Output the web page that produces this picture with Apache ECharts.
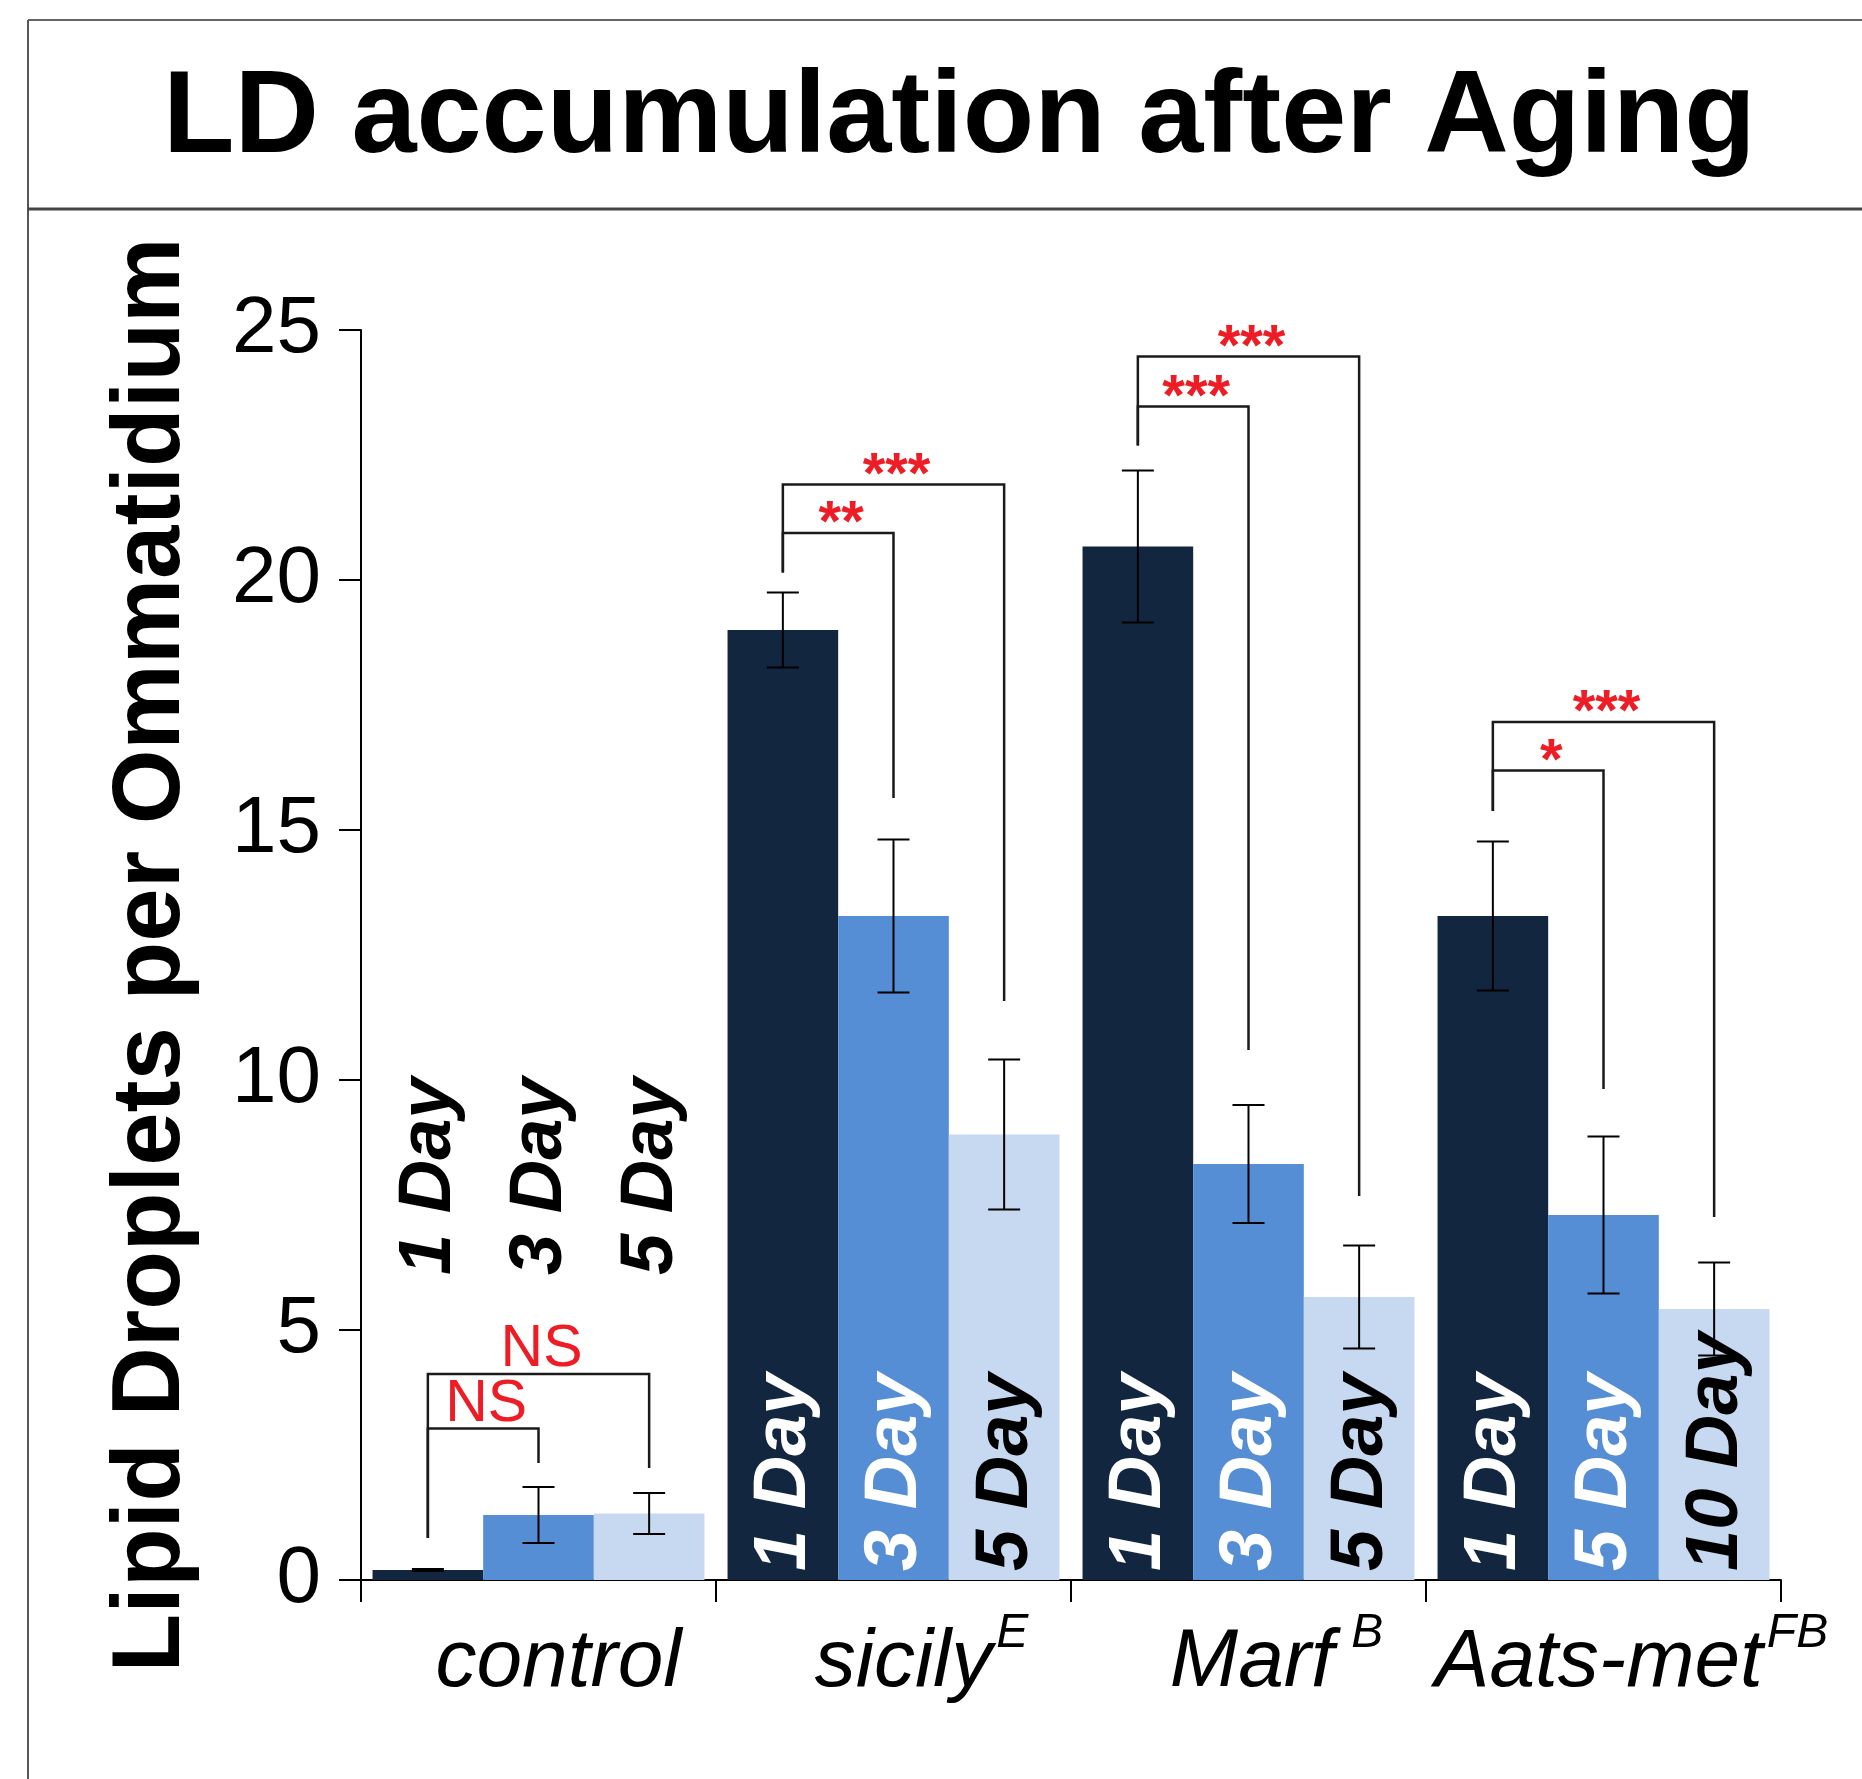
<!DOCTYPE html>
<html><head><meta charset="utf-8">
<script src="https://cdn.jsdelivr.net/npm/echarts@6/dist/echarts.min.js"></script>
<style>html,body{margin:0;padding:0;background:#fff}#c{width:1862px;height:1779px}</style>
</head><body><div id="c"></div>
<script>
// ---------------- data ----------------
const groups = ['control', 'sicily', 'Marf', 'Aats-met'];
const groupSup = ['', 'E', ' B', 'FB'];
const dayLabels = [
  ['1 Day', '3 Day', '5 Day'],
  ['1 Day', '3 Day', '5 Day'],
  ['1 Day', '3 Day', '5 Day'],
  ['1 Day', '5 Day', '10 Day']
];
const firstPoint  = [0.20, 19.00, 20.67, 13.28];
const secondPoint = [1.30, 13.28, 8.32, 7.30];
const thirdPoint  = [1.33, 8.91, 5.66, 5.42];
const firstErr  = [0.02, 0.75, 1.52, 1.49];
const secondErr = [0.56, 1.53, 1.18, 1.57];
const thirdErr  = [0.41, 1.50, 1.03, 0.93];
const yTicks = [0, 5, 10, 15, 20, 25];
// brackets: group, from bar, to bar, bracket level, left-leg bottom, right-leg bottom
const bracketGroup = [0, 0, 1, 1, 2, 2, 3, 3];
const bracketTo    = [1, 2, 1, 2, 1, 2, 1, 2];
const bracketLevel = [3.03, 4.12, 20.94, 21.91, 23.47, 24.47, 16.19, 17.16];
const bracketLeftBottom  = [0.84, 0.84, 20.15, 20.15, 22.69, 22.69, 15.38, 15.38];
const bracketRightBottom = [2.34, 2.24, 15.64, 11.58, 10.60, 7.68, 9.82, 7.26];
const bracketText = ['NS', 'NS', '**', '***', '***', '***', '*', '***'];

// ---------------- style constants ----------------
const FONT = '"Liberation Sans", Arial, Helvetica, sans-serif';
const COLORS = ['#132640', '#558ED5', '#C6D9F1'];
const LABEL_COLORS = ['#ffffff', '#ffffff', '#000000'];
const RED = '#EE1C25';
const CAT_GAP = 0.065;
const CONTROL_LABEL_BASE = 6.1;

const values = [firstPoint, secondPoint, thirdPoint];
const errs = [firstErr, secondErr, thirdErr];

function barCenter(api, g, p) {
  const c = api.coord([g, 0])[0];
  const w = api.size([1, 0])[0];
  const bw = w * (1 - CAT_GAP) / 3;
  return c + (p - 1) * bw;
}

const errData = [];
const labelData = [];
for (let g = 0; g < groups.length; g++) {
  for (let p = 0; p < 3; p++) {
    errData.push([g, p, values[p][g], errs[p][g]]);
    labelData.push([g, p, g === 0 ? CONTROL_LABEL_BASE : 0]);
  }
}
const bracketData = bracketGroup.map((g, i) => [g, bracketTo[i], bracketLevel[i], bracketLeftBottom[i], bracketRightBottom[i]]);

const chart = echarts.init(document.getElementById('c'), null, {renderer: 'canvas'});

const barSeries = values.map((arr, p) => ({
  type: 'bar',
  name: 'bar' + p,
  data: arr,
  barGap: '0%',
  barCategoryGap: (CAT_GAP * 100) + '%',
  itemStyle: {color: COLORS[p]},
  z: 2,
  silent: true
}));

const option = {
  animation: false,
  backgroundColor: '#ffffff',
  title: {
    text: 'LD accumulation after Aging',
    left: 163, top: 61, padding: 0,
    textStyle: {fontSize: 117, fontWeight: 'bold', color: '#000', fontFamily: FONT}
  },
  graphic: [
    {type: 'line', shape: {x1: 28, y1: 20, x2: 1862, y2: 20}, style: {stroke: '#666', lineWidth: 2}},
    {type: 'line', shape: {x1: 28, y1: 20, x2: 28, y2: 1779}, style: {stroke: '#555', lineWidth: 2}},
    {type: 'line', shape: {x1: 28, y1: 209, x2: 1862, y2: 209}, style: {stroke: '#444', lineWidth: 3}}
  ],
  grid: {left: 361, right: 81, top: 330, bottom: 199, containLabel: false},
  xAxis: {
    type: 'category',
    data: groups,
    axisLine: {lineStyle: {color: '#000', width: 2}},
    axisTick: {show: true, length: 22, lineStyle: {color: '#000', width: 2}},
    axisLabel: {
      interval: 0,
      margin: 30,
      formatter: function (v, i) {
        if (!groupSup[i]) return '{mc|' + v + '}';
        return '{m|' + v + '}{s|' + groupSup[i] + '}';
      },
      rich: {
        mc: {fontSize: 82, fontStyle: 'italic', color: '#000', fontFamily: FONT, lineHeight: 94, verticalAlign: 'bottom', padding: [0, 0, 0, 40]},
        m: {fontSize: 82, fontStyle: 'italic', color: '#000', fontFamily: FONT, lineHeight: 94, verticalAlign: 'bottom', padding: [0, 0, 0, 56]},
        s: {fontSize: 48, fontStyle: 'italic', color: '#000', fontFamily: FONT, lineHeight: 48, verticalAlign: 'top', padding: [0, 0, 0, 4]}
      }
    }
  },
  yAxis: {
    type: 'value', min: 0, max: 25, interval: 5,
    name: 'Lipid Droplets per Ommatidium',
    nameLocation: 'middle', nameGap: 160,
    nameTextStyle: {fontSize: 96, fontWeight: 'bold', color: '#000', fontFamily: FONT},
    axisLine: {show: true, lineStyle: {color: '#000', width: 2}},
    axisTick: {show: true, length: 22, lineStyle: {color: '#000', width: 2}},
    splitLine: {show: false},
    axisLabel: {fontSize: 80, color: '#000', margin: 40, fontFamily: FONT,
      formatter: v => (yTicks.indexOf(v) >= 0 ? String(v) : '')}
  },
  series: barSeries.concat([
    {
      type: 'custom', name: 'dayLabels', coordinateSystem: 'cartesian2d',
      data: labelData, encode: {x: 0, y: 2}, z: 3, silent: true, clip: false,
      renderItem: function (params, api) {
        const g = api.value(0), p = api.value(1), base = api.value(2);
        const x = barCenter(api, g, p) + 2;
        const y = api.coord([g, base])[1] - (g === 0 ? 0 : 9);
        return {
          type: 'text', x: x, y: y, rotation: Math.PI / 2,
          style: {
            text: dayLabels[g][p],
            fill: g === 0 ? '#000' : LABEL_COLORS[p],
            font: 'italic bold 74px ' + FONT,
            align: 'left', verticalAlign: 'middle'
          }
        };
      }
    },
    {
      type: 'custom', name: 'errorBars', coordinateSystem: 'cartesian2d',
      data: errData, encode: {x: 0, y: 2}, z: 4, silent: true, clip: false,
      renderItem: function (params, api) {
        const g = api.value(0), p = api.value(1), v = api.value(2), e = api.value(3);
        const x = barCenter(api, g, p);
        const yt = api.coord([g, v + e])[1];
        const yb = api.coord([g, v - e])[1];
        const st = {stroke: '#000', lineWidth: 2};
        return {type: 'group', children: [
          {type: 'line', shape: {x1: x, y1: yt, x2: x, y2: yb}, style: st},
          {type: 'line', shape: {x1: x - 16, y1: yt, x2: x + 16, y2: yt}, style: st},
          {type: 'line', shape: {x1: x - 16, y1: yb, x2: x + 16, y2: yb}, style: st}
        ]};
      }
    },
    {
      type: 'custom', name: 'brackets', coordinateSystem: 'cartesian2d',
      data: bracketData, encode: {x: 0, y: 2}, z: 5, silent: true, clip: false,
      renderItem: function (params, api) {
        const i = params.dataIndex;
        const g = api.value(0), to = api.value(1), lvl = api.value(2), lb = api.value(3), rb = api.value(4);
        const x0 = barCenter(api, g, 0);
        const x1 = barCenter(api, g, to);
        const yl = api.coord([g, lvl])[1];
        const y0 = api.coord([g, lb])[1];
        const y1 = api.coord([g, rb])[1];
        const txt = bracketText[i];
        const isNS = txt === 'NS';
        return {type: 'group', children: [
          {type: 'polyline', shape: {points: [[x0, y0], [x0, yl], [x1, yl], [x1, y1]]},
           style: {stroke: '#1a1a1a', lineWidth: 2.5, fill: null}},
          {type: 'text', x: (x0 + x1) / 2 + 3, y: yl - (isNS ? 24 : 8),
           style: {text: txt, fill: RED,
             font: (isNS ? 'normal 59px ' : 'bold 58px ') + FONT,
             align: 'center', verticalAlign: 'middle'}}
        ]};
      }
    }
  ])
};
chart.setOption(option);
</script>
</body></html>
